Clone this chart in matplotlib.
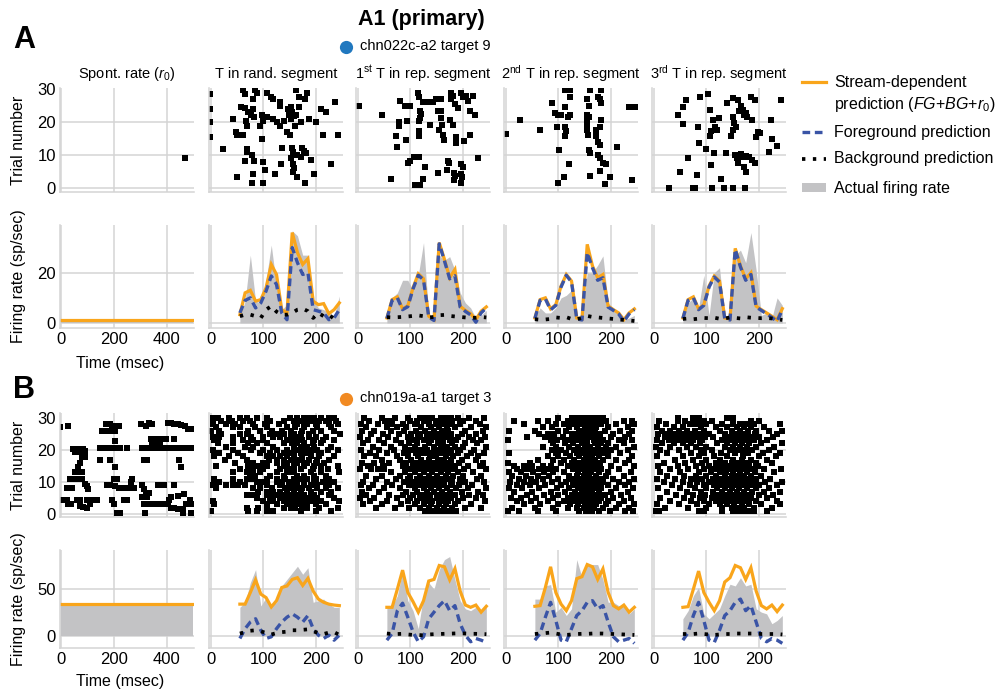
import numpy as np
import matplotlib
matplotlib.use('Agg')
import matplotlib.pyplot as plt
from matplotlib.lines import Line2D
from matplotlib.patches import Rectangle

plt.rcParams['font.family'] = ['Liberation Sans', 'DejaVu Sans']
plt.rcParams['mathtext.fontset'] = 'custom'
plt.rcParams['mathtext.rm'] = 'Liberation Sans'
plt.rcParams['mathtext.it'] = 'Liberation Sans:italic'

ORANGE = '#f9a51b'
BLUE = '#3a54a6'
GRAY = '#c3c3c5'
GRID = '#d4d4d4'

# ---------------- data ----------------
TIME = [55, 65, 75, 85, 95, 105, 115, 125, 135, 145,
        155, 165, 175, 185, 195, 205, 215, 225, 235, 245]
SPONT_T = [0, 500]

TITLES = ['Spont. rate ($r_0$)', 'T in rand. segment',
          '1$^{\\mathrm{st}}$ T in rep. segment',
          '2$^{\\mathrm{nd}}$ T in rep. segment',
          '3$^{\\mathrm{rd}}$ T in rep. segment']

# panel A (chn022c-a2 target 9)
A_SPONT_STREAM = 1.0
A_SPONT_ACTUAL = 0.8
A_STREAM = [
    [3.3, 12, 13, 8.7, 9.3, 14, 23.3, 19.3, 5.3, 4, 36, 28, 23.3, 25.6, 8.7, 7.3, 7.7, 3.7, 5.3, 8],
    [2, 9.3, 10.4, 5.6, 6.9, 14, 19.6, 17.6, 2.7, 1.3, 32, 25.3, 18, 21.3, 6.7, 5, 3.7, 1.3, 4.7, 6.4],
    [2, 9.3, 10, 5.6, 7.3, 14.7, 19.3, 16.7, 2, 1.6, 31.3, 22.7, 18, 19.3, 6.7, 5.3, 4, 1.3, 4, 5.6],
    [2, 9.3, 10.4, 5.6, 7.3, 14.7, 18.7, 16.7, 2, 1.6, 29.7, 22.7, 17.6, 20, 6.7, 5.3, 4, 2.7, 1.3, 5.7],
]
A_FG = [
    [4, 9, 10, 6, 8, 12.7, 18.7, 15.3, 4, 1.3, 30, 24, 19.3, 20, 5.3, 4.7, 4, 1.3, 2, 5.3],
    [1.8, 9, 10, 5.3, 6.5, 13.6, 19, 17.2, 2.3, 1, 31.5, 24.7, 17.6, 18.8, 6.3, 4.6, 3.2, 0.3, 4, 6],
    [1.8, 9, 9.6, 5.2, 7, 14.3, 19, 16.3, 1.6, 1.2, 28, 22, 17, 18, 6.3, 5, 3.6, 0.6, 3.6, 5.3],
    [1.8, 9, 10, 5.3, 7, 14.3, 18.3, 16.3, 1.6, 1.2, 29.3, 22.3, 17, 19.3, 6.3, 5, 3.6, 2.2, 0.6, 5.3],
]
A_BG = [
    [2.7, 3.3, 3.3, 2.7, 2, 5.3, 6.7, 4.5, 3.3, 3.3, 4, 5.3, 5.7, 4.7, 2, 4, 2.7, 3.3, 1.6, 1.3],
    [2.3, 2.2, 2.3, 2.4, 2.6, 2.8, 3.0, 2.7, 2.2, 2.4, 3.1, 3.2, 2.8, 2.6, 2.4, 2.2, 2.0, 2.1, 2.4, 2.2],
    [1.5, 1.3, 1.4, 1.6, 2.2, 2.0, 2.3, 1.6, 1.5, 2.0, 2.8, 2.4, 2.2, 2.0, 1.8, 1.6, 1.4, 1.2, 1.0, 0.8],
    [1.6, 1.8, 1.5, 1.7, 2.0, 1.9, 2.1, 1.7, 1.8, 2.2, 2.0, 1.8, 2.3, 2.1, 2.0, 1.9, 2.0, 1.8, 1.5, 1.2],
]
A_ACTUAL = [
    [2.7, 8.7, 27, 8.7, 8, 17, 31, 14.7, 5.3, 7.3, 36.7, 34.7, 27, 27, 9.3, 6, 5.3, 4, 2.7, 10.7],
    [2, 10, 12, 17, 17, 13, 19, 32, 3, 3, 27, 25, 26.4, 21, 12, 8, 6, 2, 3, 5],
    [2, 6, 4, 4, 6, 10, 11, 13, 2, 2, 20, 20, 23, 26.7, 8, 6, 4, 1, 2, 3],
    [2, 8, 10, 6, 19, 3, 20, 22, 2, 3, 27, 29, 24, 36, 21, 3, 4, 2, 10, 7],
]

A_SPONT_SPIKES = [(470, 9)]
A_RAND_SPIKES = [
    (-3, 28.5), (-3, 24), (-3, 20), (-3, 15.6), (61, 29.8), (65, 28.5), (84, 29.8), (88, 29),
    (81, 27), (106, 28.8), (114, 27.7), (119, 27), (132, 26), (163, 29.8), (183, 28.8),
    (168, 27.7), (179, 27), (237, 26), (243, 16), (213, 16), (229, 7.3), (210, 24), (219, 23),
    (200, 20), (187, 21), (171, 20), (161, 19), (152, 21), (148, 22.3), (146, 24), (152, 24.7),
    (155, 23), (158, 22), (168, 24.7), (163, 22.3), (139, 20.3), (131, 19), (119, 21), (126, 20),
    (106, 21.6), (100, 20.3), (94, 19), (82, 21.6), (77, 22.3), (71, 23), (65, 24.4), (58, 24.7),
    (68, 19), (66, 20.3), (42, 21), (81, 24), (97, 22.3), (132, 25), (47, 17), (50, 16), (61, 16),
    (97, 15), (145, 17), (150, 16), (23, 12), (68, 12), (68, 11), (79, 10), (65, 8.2), (82, 8.2),
    (100, 8), (134, 7.3), (155, 12.3), (157, 11), (160, 10), (152, 9), (165, 10), (174, 12.3),
    (177, 11.4), (181, 10.5), (171, 9.5), (190, 8.5), (135, 12.1), (157, 7.3), (159, 6),
    (157, 4.9), (165, 3.4), (103, 5.4), (123, 4.4), (81, 4.4), (50, 3.4), (79, 1.5), (100, 1.5),
    (179, 1.5), (197, 4.4),
]
A_REP1_SPIKES = [
    (1, 25), (46, 22.3), (80, 26.4), (89, 25), (95, 25), (100, 25), (78, 20), (78, 19), (94, 20.3),
    (73, 15.7), (75, 12.6), (92, 14.6), (114, 29), (116, 27.7), (124, 26), (133, 26), (143, 26),
    (149, 27), (159, 27), (118, 23.3), (121, 22.6), (118, 21.3), (116, 20.3), (138, 19.2),
    (116, 17.2), (116, 15.7), (152, 23.3), (158, 23.3), (158, 21.3), (160, 19.2), (155, 17.7),
    (162, 16.2), (164, 14.6), (175, 20.8), (181, 19.2), (177, 27), (181, 28), (186, 25.4),
    (191, 24.4), (178, 29), (196, 28.8), (200, 27.7), (206, 27.9), (219, 27.9), (210, 26.4),
    (223, 22.3), (214, 23.3), (187, 15.5), (187, 13.6), (202, 14.4), (214, 16.2), (230, 9),
    (106, 9.5), (114, 9.5), (117, 9.5), (100, 8.3), (96, 7.5), (127, 6.4), (63, 2.6), (109, 0.8),
    (119, 0.8), (124, 2.6), (152, 4.6), (170, 5.6), (172, 8.3), (174, 7.5), (184, 4.6), (185, 3.6),
    (183, 2.4), (196, 4.4), (198, 3.4), (197, 1.5), (196, 7.3), (200, 6.4),
]
A_REP2_SPIKES = [
    (0, 16.5), (26, 20.8), (64, 17.7), (113, 29.8), (122, 29.8), (122, 27.7), (87, 25.7),
    (94, 22.8), (100, 22.3), (104, 22.3), (113, 24.7), (122, 22.3), (119, 21.6), (98, 18.5),
    (113, 18.5), (115, 17.2), (113, 15.9), (102, 11.6), (121, 7.3), (111, 3.4), (100, 1.5),
    (160, 29.8), (182, 29.8), (154, 27), (176, 27.7), (179, 27), (159, 25), (182, 25.9),
    (154, 22.3), (159, 21.6), (155, 20.3), (182, 20.6), (155, 18.7), (155, 17.5), (157, 16.2),
    (172, 17.5), (179, 18.7), (172, 15.7), (176, 14.1), (179, 13.1), (159, 11.6), (160, 10.5),
    (176, 10), (179, 9), (185, 7.5), (190, 7.3), (180, 5.2), (161, 3.6), (199, 3.4), (189, 1.3),
    (212, 12.6), (235, 24.7), (246, 24.7), (241, 2.4),
]
A_REP3_SPIKES = [
    (29, 0.1), (46, 22.3), (55, 19.5), (56, 24.7), (61, 26.7), (50, 4.9), (64, 9), (75, 0),
    (79, 0), (82, 3.9), (85, 13.8), (84, 18.7), (88, 27.7), (100, 11.8), (103, 28.5), (106, 23.8),
    (107, 15.9), (109, 17.2), (113, 20.8), (117, 18.7), (121, 17.7), (124, 21.3), (108, 7),
    (111, 0.1), (115, 10.7), (127, 2.9), (137, 10.7), (134, 0.1), (150, 0.1), (140, 25.7),
    (150, 27.4), (160, 26.9), (150, 21.6), (153, 19.8), (156, 18.7), (150, 17.7), (146, 15.9),
    (154, 10), (158, 9), (161, 7.7), (166, 10.3), (169, 9.5), (175, 9.7), (172, 6.4), (175, 4.9),
    (174, 0), (163, 23.3), (169, 23.8), (172, 22.3), (175, 22.8), (177, 21.6), (166, 25),
    (185, 27.7), (193, 26.9), (188, 20.8), (182, 9.5), (188, 8.5), (192, 7.7), (198, 16.9),
    (203, 16.7), (195, 15.5), (224, 20.8), (219, 11), (225, 14.8), (235, 12.8), (242, 26.7),
]

# panel B (chn019a-a1 target 3)
B_SPONT_STREAM = 34
B_SPONT_ACTUAL = 33
B_STREAM = [
    [34, 34, 46.5, 60, 44.7, 41, 31, 37.7, 51.8, 53.5, 60.5, 62.3, 54, 61.6, 48, 39.4, 36, 34, 33, 32.4],
    [30.6, 30.6, 50, 70.4, 46.5, 36.6, 25.4, 37.7, 58.8, 60.5, 75.4, 74, 60, 72, 48, 33, 30.6, 33, 25.4, 31.7],
    [31.7, 32.4, 51.8, 74, 46.5, 34, 27, 37.7, 61.3, 63.4, 76.4, 74, 60.5, 71.8, 46.5, 32.4, 28.9, 33, 25.4, 30.6],
    [30.6, 31.3, 50, 69.4, 46.5, 36, 27, 37.7, 57.7, 62.3, 75.4, 73, 60.5, 73, 48, 32.4, 28.9, 33, 26, 33],
]
B_FG = [
    [-2.8, 7.7, 14.8, 18.3, 6, -2.8, -1, 7.7, 14.8, 20, 23.6, 20, 14.8, 21.8, 7.7, 0.7, -2.8, 0.7, -4.6, 0.7],
    [-4.6, 2.5, 27, 35, 20, 4.2, -6.3, -1, 18.3, 25.4, 32.4, 37.7, 27, 32.4, 13, 0.7, -6.3, -2.8, -4.6, -7],
    [-4.6, 2.5, 20, 35.9, 16.5, -4.6, -6.3, 7.7, 21.8, 27, 35.9, 37.7, 28.9, 32.4, 14.8, -1, -6.3, -4.6, -2.8, -8],
    [-4.6, 3.5, 21.8, 35.9, 16.5, -4.6, -7, 6, 21.8, 27, 35.9, 39.4, 27, 32.4, 14.8, -2.8, -6.3, -2.8, -4.6, -8],
]
B_BG = [
    [2.5, 4, 5.5, 6, 5, 3, 1.5, 3, 4, 4.5, 6, 6, 6.5, 7, 5, 3, 2, 3.5, 4, 1],
    [2.5, 2, 2, 2.2, 1.5, 1, 1, 0.5, 1.5, 1.8, 2.0, 2.2, 2.4, 2.6, 2.8, 2.5, 2.2, 2.2, 2.0, 1.8],
    [2, 2.5, 3, 3.5, 2.5, 1.5, 1, 1.5, 2.0, 2.2, 2.2, 2.5, 2.5, 2.5, 2.2, 2.0, 1.8, 1.5, 1.2, 1.0],
    [2, 2, 2, 2.5, 2, 1.5, 1, 1.5, 2, 2, 2.5, 2.5, 2.5, 2.5, 2.5, 2, 2, 2, 2, 1.5],
]
B_ACTUAL = [
    [30.6, 36, 57, 71, 32, 41, 32.4, 36, 53.5, 60.5, 67.6, 74.6, 66, 73, 36, 37.7, 39.4, 34, 30.6, 30.6],
    [30.6, 32, 43, 69.4, 37.7, 27, 7.7, 43, 57, 50, 71, 81.7, 85, 60.5, 37.7, 29, 27, 30.6, 27, 32.4],
    [39.4, 39.4, 53.5, 55, 25.4, 30.6, 21.8, 29, 81.7, 62.3, 76.4, 76.4, 76.4, 60.5, 36, 36, 32.4, 32.4, 23.6, 28.9],
    [18.3, 27, 43, 51.8, 23.6, 18.3, 23.6, 29, 43, 55.3, 53.5, 62.3, 53.5, 55.3, 29, 25.4, 23.6, 13, 16.5, 21.8],
]

B_SPONT_SPIKES = [
    (-4, 27), (28, 27.5), (172, 28.2), (185, 28.2), (194, 27.5), (206, 27.5), (219, 27.5),
    (155, 25.8), (168, 25.8), (181, 25.8), (194, 25.8), (206, 25.8), (206, 22.9),
    (302, 28.2), (334, 28.5), (346, 28.2), (321, 27.5), (404, 28.5), (417, 28.5), (429, 28.2),
    (442, 28), (455, 27.8), (468, 27.5), (480, 26.5), (493, 26.5),
    (340, 23.4), (353, 23.4), (366, 23.4), (378, 23.4), (397, 23.4), (429, 23.4),
    (346, 22.4), (359, 22.4), (376, 22.4),
    (149, 20.6), (168, 20.6), (187, 20.6), (200, 20.6), (225, 20.6), (251, 20.6), (308, 20.6),
    (327, 20.6), (340, 20.6), (353, 20.6), (366, 20.6), (378, 20.6), (391, 20.6), (404, 20.6),
    (417, 20.6), (429, 20.6), (442, 20.6), (455, 20.6), (468, 20.6), (480, 20.6), (493, 20.6),
    (47, 20.3), (60, 20.3), (73, 20.3), (85, 20.3), (92, 19.6), (54, 19.3), (73, 19.3),
    (79, 17.7), (92, 17.7), (149, 16.9), (187, 16.9), (315, 16.9), (327, 16.9), (448, 16.9),
    (206, 14.8), (73, 15.9), (66, 14.8), (455, 14.6), (54, 13.1), (60, 13.1), (79, 13.1),
    (34, 11), (41, 11), (57, 11), (66, 11), (79, 11), (200, 11), (213, 11), (270, 11),
    (22, 8.2), (28, 8.2), (41, 8.2), (241, 8.2), (257, 8.2), (276, 8.2),
    (92, 9.3), (98, 8.7), (104, 7.9), (175, 9), (187, 9), (206, 8.7), (219, 8.2), (264, 10),
    (308, 9), (315, 7.9), (366, 9), (391, 9), (429, 9), (321, 6.6), (334, 6.6),
    (417, 5.4), (442, 5.6), (465, 6.4), (308, 5.4), (327, 5.4),
    (-4, 4.3), (9, 4.3), (22, 4.3), (60, 4.3), (73, 4.3), (98, 4.3), (111, 4.3), (124, 4.3),
    (136, 4.3), (194, 4.3), (238, 4.3), (251, 4.3), (28, 3.1), (37, 3.1), (200, 3.1),
    (73, 2.5), (85, 2.3), (98, 1.8), (111, 3.3), (315, 3.3), (327, 3.3), (346, 3.3), (366, 3.3),
    (385, 3.3), (404, 3.3), (410, 4.3), (417, 1.8), (429, 1.8), (442, 1.5), (461, 1.5),
    (474, 3.1), (487, 4.3), (493, 3.1), (213, 0.2), (223, 0.2), (317, 0.2), (461, 0.2), (493, 0.2),
]

# spike times per trial, trial 30 first ... trial 1 last
B_RAND_TRIALS = [
    [3, 13, 35, 55, 68, 87, 106, 151, 164, 177, 187, 197, 210, 226, 235],
    [19, 39, 61, 74, 113, 139, 158, 171, 190, 206, 219, 239],
    [3, 29, 45, 81, 103, 129, 164, 184, 200, 226, 242],
    [10, 42, 55, 84, 106, 145, 161, 177, 203, 229],
    [0, 16, 71, 94, 116, 135, 152, 174, 194, 210, 235],
    [19, 55, 68, 113, 126, 139, 152, 158, 171, 187, 247],
    [3, 16, 42, 77, 100, 119, 132, 152, 168, 187, 200, 219],
    [6, 61, 81, 100, 145, 161, 174, 197, 213, 235],
    [13, 42, 71, 87, 106, 139, 155, 164, 177, 194, 210],
    [29, 65, 81, 119, 158, 171, 184, 197, 229],
    [3, 42, 77, 100, 126, 145, 161, 177, 194, 203, 223, 242],
    [16, 52, 94, 113, 139, 152, 171, 184, 210],
    [6, 35, 61, 106, 119, 132, 145, 158, 174, 190, 206, 235],
    [26, 68, 110, 126, 139, 152, 164, 174, 187, 203, 226],
    [45, 81, 100, 126, 145, 164, 184, 200, 216],
    [10, 71, 87, 106, 139, 158, 177, 197, 210, 242],
    [55, 71, 81, 100, 132, 148, 171, 194, 223],
    [42, 68, 81, 94, 126, 145, 152, 158, 190, 210, 245],
    [74, 84, 113, 139, 164, 177, 197, 219],
    [6, 42, 68, 81, 106, 126, 142, 158, 171, 184, 200, 226],
    [16, 55, 87, 100, 126, 135, 152, 161, 177, 197, 213, 235],
    [3, 29, 42, 52, 65, 106, 132, 148, 164, 177, 190, 203, 226],
    [10, 81, 94, 116, 142, 152, 164, 174, 187, 203, 219, 242],
    [90, 106, 119, 132, 145, 158, 171, 190, 210, 229],
    [68, 81, 106, 123, 135, 145, 155, 164, 177, 197, 226],
    [87, 113, 132, 145, 158, 168, 177, 187, 203, 235],
    [3, 100, 119, 139, 148, 158, 168, 174, 190, 210, 245],
    [6, 106, 126, 145, 155, 164, 171, 184, 200, 219],
    [68, 90, 106, 139, 152, 161, 174, 184, 206, 242],
    [0, 71, 87, 106, 119, 171, 200, 229],
]
B_REP1_TRIALS = [
    [12, 45, 70, 95, 118, 130, 142, 158, 170, 178, 190, 212, 240],
    [20, 52, 60, 100, 112, 125, 150, 165, 180, 200, 225],
    [5, 38, 65, 85, 108, 135, 148, 162, 175, 195, 232],
    [15, 55, 75, 92, 120, 140, 155, 170, 185, 215, 245],
    [8, 30, 62, 88, 110, 128, 145, 160, 172, 205, 238],
    [25, 48, 78, 102, 118, 138, 150, 165, 178, 198, 225],
    [3, 58, 95, 115, 132, 148, 158, 168, 190, 212, 242],
    [18, 40, 72, 105, 125, 140, 155, 175, 188, 220, 235],
    [10, 50, 82, 98, 112, 135, 152, 162, 180, 205, 228],
    [28, 62, 90, 108, 128, 145, 158, 170, 185, 200, 245],
    [5, 40, 68, 100, 118, 132, 150, 165, 178, 195, 222],
    [22, 55, 88, 110, 125, 142, 160, 172, 190, 215, 240],
    [12, 35, 75, 95, 115, 138, 148, 168, 182, 208, 230],
    [45, 80, 102, 120, 135, 152, 165, 178, 198, 225],
    [8, 30, 60, 92, 112, 130, 145, 160, 175, 192, 238],
    [18, 48, 85, 105, 122, 140, 155, 170, 185, 210, 232],
    [4, 25, 38, 50, 98, 115, 132, 148, 162, 180, 202, 245],
    [62, 90, 108, 125, 142, 158, 172, 190, 220],
    [15, 45, 80, 100, 118, 135, 150, 168, 182, 200, 235],
    [35, 72, 95, 112, 128, 145, 160, 175, 195, 228],
    [10, 55, 88, 105, 122, 138, 152, 165, 180, 205, 240],
    [5, 28, 65, 98, 115, 130, 148, 162, 178, 192, 218],
    [20, 50, 80, 108, 125, 140, 155, 170, 188, 210, 245],
    [8, 40, 92, 112, 132, 145, 160, 175, 198, 230],
    [15, 60, 85, 105, 120, 138, 152, 168, 185, 212, 238],
    [3, 30, 75, 100, 118, 132, 150, 162, 178, 200, 225],
    [22, 55, 95, 112, 128, 142, 158, 172, 190, 242],
    [10, 45, 82, 108, 125, 140, 155, 168, 185, 215],
    [35, 70, 98, 118, 135, 150, 165, 180, 205, 235],
    [128, 135, 142, 150, 158, 165, 172, 180, 188],
]
B_REP2_TRIALS = [
    [100, 125, 132, 140, 148, 155, 162, 170, 178, 185],
    [15, 60, 80, 118, 138, 150, 158, 165, 175, 190, 225, 240],
    [35, 95, 110, 130, 145, 152, 160, 168, 182, 210, 245],
    [70, 88, 120, 135, 150, 162, 172, 195, 232],
    [5, 55, 100, 115, 140, 148, 158, 170, 188, 218, 240],
    [62, 80, 92, 125, 135, 145, 155, 165, 180, 205, 235],
    [40, 75, 108, 130, 142, 152, 162, 175, 200, 228],
    [3, 85, 98, 118, 140, 150, 168, 185, 215, 240],
    [90, 112, 128, 145, 155, 170, 182, 195, 225],
    [70, 95, 120, 138, 150, 160, 175, 190, 210, 245],
    [88, 105, 130, 145, 158, 168, 180, 200, 232],
    [5, 95, 115, 135, 150, 160, 172, 188, 218],
    [80, 100, 122, 140, 152, 165, 178, 195, 240],
    [60, 90, 110, 130, 148, 158, 170, 185, 210, 235],
    [3, 45, 105, 125, 140, 155, 165, 180, 228],
    [15, 35, 50, 70, 85, 118, 135, 150, 160, 175, 200, 245],
    [20, 40, 62, 78, 95, 128, 145, 155, 168, 182, 215],
    [5, 28, 52, 72, 90, 110, 138, 150, 162, 178, 195, 238],
    [12, 38, 60, 82, 120, 135, 148, 158, 172, 190, 225],
    [25, 48, 70, 100, 125, 142, 152, 165, 180, 205, 245],
    [8, 35, 58, 88, 115, 132, 148, 158, 168, 185, 215, 235],
    [20, 45, 75, 105, 128, 140, 152, 162, 175, 195, 228],
    [5, 30, 62, 98, 120, 138, 148, 158, 170, 182, 210, 242],
    [15, 50, 85, 112, 132, 145, 155, 165, 178, 200, 232],
    [40, 72, 100, 125, 140, 150, 160, 172, 188, 220],
    [10, 28, 58, 90, 118, 135, 148, 158, 168, 182, 205, 238],
    [20, 48, 80, 110, 130, 145, 155, 165, 178, 195, 225],
    [35, 65, 100, 122, 138, 150, 160, 172, 190, 215, 245],
    [12, 55, 90, 118, 135, 148, 158, 168, 185, 210, 235],
    [3, 25, 60, 95, 140, 152, 165, 178, 198, 228, 242],
]
B_REP3_TRIALS = [
    [45, 75, 85, 140, 150],
    [10, 45, 60, 75, 85, 95, 110, 185, 200],
    [22, 68, 80, 100, 130, 150, 165, 175, 190, 240],
    [5, 38, 55, 90, 118, 140, 158, 172, 185, 210],
    [15, 30, 48, 62, 78, 95, 125, 148, 165, 180, 195, 220, 245],
    [8, 25, 42, 58, 72, 88, 105, 135, 152, 168, 178, 192, 235],
    [20, 35, 50, 68, 82, 98, 112, 142, 158, 172, 185, 200, 228],
    [5, 28, 45, 60, 75, 92, 130, 148, 162, 175, 190, 215],
    [15, 38, 55, 70, 88, 120, 140, 155, 168, 182, 205, 245],
    [3, 30, 62, 80, 100, 135, 150, 165, 178, 195, 230],
    [12, 48, 90, 110, 145, 160, 172, 188, 220],
    [25, 70, 95, 128, 155, 180, 208, 240],
    [5, 55, 85, 115, 140, 170, 200, 232],
    [40, 75, 100, 125, 150, 168, 185, 215],
    [18, 60, 92, 118, 135, 148, 160, 175, 195, 225],
    [8, 45, 80, 105, 125, 140, 155, 170, 182, 198],
    [30, 65, 95, 115, 132, 145, 158, 172, 188, 210, 242],
    [12, 50, 85, 108, 125, 138, 150, 165, 178, 192, 230],
    [25, 58, 80, 100, 118, 135, 148, 160, 172, 185, 205],
    [5, 40, 70, 92, 112, 128, 142, 155, 168, 180, 195, 222],
    [18, 55, 82, 105, 122, 138, 150, 162, 175, 190, 212, 245],
    [35, 68, 95, 115, 132, 145, 158, 170, 185, 200, 235],
    [8, 50, 78, 100, 120, 135, 148, 162, 178, 195, 220],
    [25, 62, 90, 112, 130, 145, 158, 172, 188, 210, 240],
    [42, 75, 98, 120, 138, 150, 165, 180, 200, 228],
    [12, 58, 88, 110, 128, 142, 155, 170, 185, 215],
    [30, 70, 95, 118, 135, 148, 162, 178, 195, 235],
    [5, 48, 82, 105, 125, 140, 152, 168, 182, 205, 240],
    [20, 65, 100, 130, 148, 160, 172, 190, 225],
    [3, 10, 85, 95, 130, 150, 160, 170, 180, 190, 215],
]

# ---------------- layout ----------------
W, H = 1003, 696
fig = plt.figure(figsize=(W / 100, H / 100), dpi=100)

COL_X = [60, 209, 356, 504, 652]
COL_W = 134
ROWS = {'A_r': (88, 192), 'A_f': (225, 328), 'B_r': (413, 517), 'B_f': (550, 648)}

DASH = (0, (2.3, 1.4))
DOTS = (0, (0.9, 2.0))


def add_ax(col, row):
    top, bot = ROWS[row]
    x0 = COL_X[col]
    return fig.add_axes([x0 / W, 1 - bot / H, COL_W / W, (bot - top) / H])


def style(ax, col, ylim, yticks, xlabels, ylabels):
    if col == 0:
        ax.set_xlim(-3, 503)
        ax.set_xticks([0, 200, 400])
    else:
        ax.set_xlim(-4, 252)
        ax.set_xticks([0, 100, 200])
    ax.set_ylim(ylim)
    ax.set_yticks(yticks)
    ax.grid(True, color=GRID, lw=1.1)
    ax.set_axisbelow(True)
    for s in ['top', 'right']:
        ax.spines[s].set_visible(False)
    for s in ['left', 'bottom']:
        ax.spines[s].set_color(GRID)
        ax.spines[s].set_linewidth(1.1)
    ax.tick_params(length=0, labelsize=12, pad=3,
                   labelbottom=xlabels, labelleft=ylabels)


def raster(ax, t, tr):
    ax.plot(t, tr, 's', ms=4.0, mew=0, color='k', clip_on=True)


def rates(ax, t, actual, stream, fg=None, bg=None):
    ax.fill_between(t, 0, actual, color=GRAY, lw=0)
    ax.plot(t, stream, color=ORANGE, lw=2.3, solid_joinstyle='miter')
    if fg is not None:
        ax.plot(t, fg, color=BLUE, lw=2.4, ls=DASH)
    if bg is not None:
        ax.plot(t, bg, color='k', lw=2.7, ls=DOTS)


# ----- panel A rasters -----
a_spikes = [A_SPONT_SPIKES, A_RAND_SPIKES, A_REP1_SPIKES, A_REP2_SPIKES, A_REP3_SPIKES]
for c in range(5):
    ax = add_ax(c, 'A_r')
    t, tr = zip(*a_spikes[c])
    raster(ax, t, tr)
    style(ax, c, (-1.2, 30.4), [0, 10, 20, 30], False, c == 0)
    ax.yaxis.get_gridlines()[-1].set_visible(False)
    ax.set_title(TITLES[c], fontsize=10.5, pad=7)
    if c == 0:
        ax.set_ylabel('Trial number', fontsize=11.5)
        ax.yaxis.set_label_coords(-0.255, 0.5)

# ----- panel A rates -----
for c in range(5):
    ax = add_ax(c, 'A_f')
    if c == 0:
        rates(ax, SPONT_T, [A_SPONT_ACTUAL] * 2, [A_SPONT_STREAM] * 2)
    else:
        rates(ax, TIME, A_ACTUAL[c - 1], A_STREAM[c - 1], A_FG[c - 1], A_BG[c - 1])
    style(ax, c, (-2, 39), [0, 20], True, c == 0)
    if c == 0:
        ax.set_ylabel('Firing rate (sp/sec)', fontsize=11.5)
        ax.yaxis.set_label_coords(-0.255, 0.5)
        ax.set_xlabel('Time (msec)', fontsize=11.5)
        ax.xaxis.set_label_coords(0.45, -0.27)
        ax.xaxis.label.set_va('top')

# ----- panel B rasters -----
for c in range(5):
    ax = add_ax(c, 'B_r')
    if c == 0:
        t, tr = zip(*B_SPONT_SPIKES)
    else:
        trials = [B_RAND_TRIALS, B_REP1_TRIALS, B_REP2_TRIALS, B_REP3_TRIALS][c - 1]
        t, tr = [], []
        for i, row in enumerate(trials):
            t += row
            tr += [30 - i] * len(row)
    raster(ax, t, tr)
    style(ax, c, (-0.9, 31.5), [0, 10, 20, 30], False, c == 0)
    ax.yaxis.get_gridlines()[-1].set_visible(False)
    if c == 0:
        ax.set_ylabel('Trial number', fontsize=11.5)
        ax.yaxis.set_label_coords(-0.255, 0.5)

# ----- panel B rates -----
for c in range(5):
    ax = add_ax(c, 'B_f')
    if c == 0:
        rates(ax, SPONT_T, [B_SPONT_ACTUAL] * 2, [B_SPONT_STREAM] * 2)
    else:
        rates(ax, TIME, B_ACTUAL[c - 1], B_STREAM[c - 1], B_FG[c - 1], B_BG[c - 1])
    style(ax, c, (-13, 92), [0, 50], True, c == 0)
    if c == 0:
        ax.set_ylabel('Firing rate (sp/sec)', fontsize=11.5)
        ax.yaxis.set_label_coords(-0.255, 0.5)
        ax.set_xlabel('Time (msec)', fontsize=11.5)
        ax.xaxis.set_label_coords(0.45, -0.27)
        ax.xaxis.label.set_va('top')

# ----- headings -----
fig.text(24 / W, 1 - 40 / H, 'A', fontsize=22, weight='bold', ha='center', va='center')
fig.text(24 / W, 1 - 390 / H, 'B', fontsize=22, weight='bold', ha='center', va='center')
fig.text(421 / W, 1 - 20 / H, 'A1 (primary)', fontsize=15.5, weight='bold',
         ha='center', va='center')

fig.add_artist(Line2D([346 / W], [1 - 47 / H], marker='o', ms=9.5, mew=0,
                      color='#2178bf', transform=fig.transFigure))
fig.text(360 / W, 1 - 46 / H, 'chn022c-a2 target 9', fontsize=10.5, va='center')
fig.add_artist(Line2D([346 / W], [1 - 399 / H], marker='o', ms=9.5, mew=0,
                      color='#f18a22', transform=fig.transFigure))
fig.text(360 / W, 1 - 398 / H, 'chn019a-a1 target 3', fontsize=10.5, va='center')

# ----- legend -----
LX0, LX1, TX = 802 / W, 826 / W, 834 / W


def fy(y):
    return 1 - y / H


fig.add_artist(Line2D([LX0, LX1], [fy(82), fy(82)], color=ORANGE, lw=2.3,
                      transform=fig.transFigure))
fig.text(TX, fy(83), 'Stream-dependent', fontsize=11.5, va='center')
fig.text(TX, fy(104), 'prediction ($FG$+$BG$+$r_0$)', fontsize=11.5, va='center')
fig.add_artist(Line2D([LX0, LX1], [fy(132), fy(132)], color=BLUE, lw=2.4,
                      ls=DASH, transform=fig.transFigure))
fig.text(TX, fy(132), 'Foreground prediction', fontsize=11.5, va='center')
fig.add_artist(Line2D([LX0, LX1], [fy(159), fy(159)], color='k', lw=2.7,
                      ls=DOTS, transform=fig.transFigure))
fig.text(TX, fy(158), 'Background prediction', fontsize=11.5, va='center')
fig.add_artist(Rectangle((LX0, fy(192)), LX1 - LX0, 9 / H, color=GRAY, lw=0,
                         transform=fig.transFigure))
fig.text(TX, fy(188), 'Actual firing rate', fontsize=11.5, va='center')

fig.savefig('out.png', dpi=100)
